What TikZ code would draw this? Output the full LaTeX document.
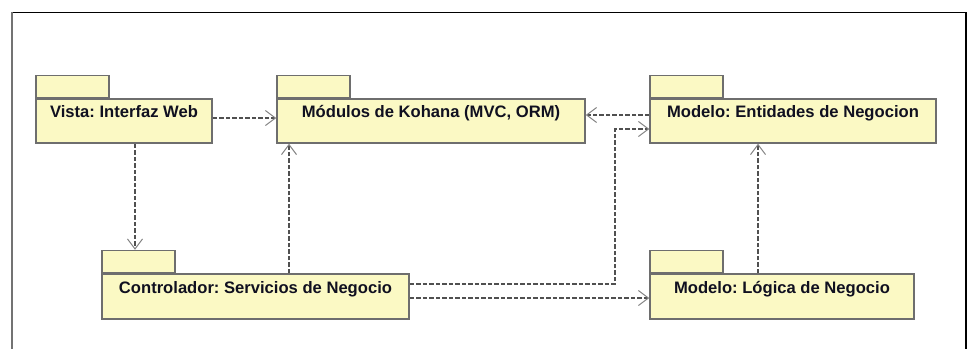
\documentclass[tikz,border=0pt]{standalone}
\usepackage{fontspec}
\setmainfont{Liberation Sans}
\usetikzlibrary{arrows.meta}
\frenchspacing

\definecolor{pkgfill}{HTML}{FBF9C4}
\definecolor{pkgline}{HTML}{6E6E6E}
\definecolor{deparrow}{HTML}{505050}
\definecolor{pkgtext}{HTML}{101020}

\tikzset{
  pkgbody/.style={draw=pkgline, fill=pkgfill, line width=1.5pt, rectangle,
    minimum height=44pt, inner xsep=0pt, inner ysep=3.5pt,
    text height=15pt, text depth=22pt, text=pkgtext,
    font=\fontsize{16.6}{19}\selectfont\bfseries},
  pkgtab/.style={draw=pkgline, fill=pkgfill, line width=1.5pt, rectangle,
    minimum width=73pt, minimum height=22pt, inner sep=0pt,
    anchor=south west},
  dep/.style={draw=deparrow, line width=1.2pt, dash pattern=on 4.5pt off 2pt,
    -{Straight Barb[length=10pt, width=15pt, line width=1pt, color=deparrow!70]}},
}

\begin{document}
\begin{tikzpicture}[x=1pt, y=-1pt]
  \useasboundingbox (0,0) rectangle (968,349);

  % outer frame (open at the bottom)
  \draw[line width=1pt, black] (12,12) -- (966,12);
  \draw[line width=2pt, gray!90!black] (12,12) -- (12,349);
  \draw[line width=1.6pt, black] (966,12) -- (966,349);

  % package bodies
  \node[pkgbody, minimum width=176pt] (vista) at (124,121) {Vista: Interfaz Web};
  \node[pkgbody, minimum width=308pt] (koh)   at (431,121) {Módulos de Kohana (MVC, ORM)};
  \node[pkgbody, minimum width=286pt] (ent)   at (793,121) {Modelo: Entidades de Negocion};
  \node[pkgbody, minimum width=307pt, minimum height=45pt] (ctrl) at (255.5,296.5) {Controlador: Servicios de Negocio};
  \node[pkgbody, minimum width=264pt, minimum height=45pt] (logica) at (782,296.5) {Modelo: Lógica de Negocio};

  % package tabs
  \node[pkgtab] (vistaTab)  at (vista.north west) {};
  \node[pkgtab] (kohTab)    at (koh.north west) {};
  \node[pkgtab] (entTab)    at (ent.north west) {};
  \node[pkgtab] (ctrlTab)   at (ctrl.north west) {};
  \node[pkgtab] (logicaTab) at (logica.north west) {};

  % dependencies
  \draw[dep] ([yshift=3pt]vista.east) -- ([yshift=3pt]koh.west);
  \draw[dep] ([yshift=6pt]ent.west) -- ([yshift=6pt]koh.east);
  \draw[dep] ([xshift=11pt]vista.south) -- ([xshift=11pt]vista.south |- ctrlTab.north);
  \draw[dep] ([xshift=33.5pt]ctrl.north) -- ([xshift=33.5pt]ctrl.north |- koh.south);
  \draw[dep] ([xshift=-24pt]logica.north) -- ([xshift=-24pt]logica.north |- ent.south);
  \coordinate (bend) at (615,200);
  \draw[dep] ([yshift=12.5pt]ctrl.east) -| (bend) |- ([yshift=-8pt]ent.west);
  \draw[dep] ([yshift=-1.5pt]ctrl.east) -- ([yshift=-1.5pt]ctrl.east -| logica.west);
\end{tikzpicture}
\end{document}
